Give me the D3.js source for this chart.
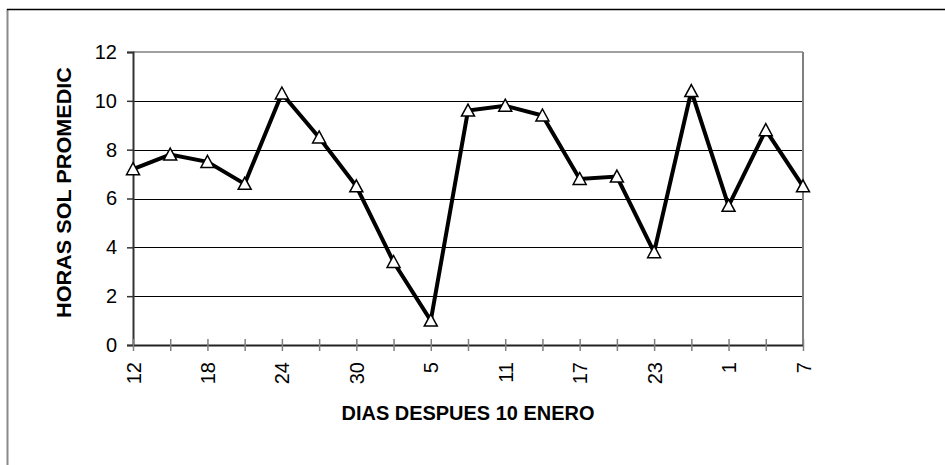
<!DOCTYPE html>
<html>
<head>
<meta charset="utf-8">
<script src="https://cdn.jsdelivr.net/npm/d3@7"></script>
<style>
  html, body { margin: 0; padding: 0; background: #fff; }
  svg { display: block; font-family: "Liberation Sans", Arial, sans-serif; }
</style>
</head>
<body>
<svg id="chart" width="945" height="465"></svg>
<script>
// Sampling dates (day of month), every three days from 12 January
const days = ["12", "15", "18", "21", "24", "27", "30", "2", "5", "8", "11", "14", "17", "20", "23", "26", "1", "4", "7"];
// Average sunshine hours for each sampling date
const hours = [7.2, 7.8, 7.5, 6.6, 10.3, 8.5, 6.5, 3.4, 1.0, 9.6, 9.8, 9.4, 6.8, 6.9, 3.8, 10.4, 5.7, 8.8, 6.5];
// Y ticks
const yTicks = [0, 2, 4, 6, 8, 10, 12];

const xTitle = "DIAS DESPUES 10 ENERO";
const yTitle = "HORAS SOL PROMEDIC";

const svg = d3.select("#chart");
const plotLeft = 133, plotRight = 803, plotTop = 52, plotBottom = 345;
const fontFamily = "'Liberation Sans', Arial, sans-serif";

const idx = d3.range(days.length);
const x = d3.scalePoint().domain(idx).range([plotLeft, plotRight]);
const y = d3.scaleLinear().domain([0, 12]).range([plotBottom, plotTop]);

// Outer frame
svg.append("line").attr("x1", 7.5).attr("x2", 7.5).attr("y1", 9).attr("y2", 465)
  .attr("stroke", "#8a8a8a").attr("stroke-width", 2);
svg.append("line").attr("x1", 7).attr("x2", 945).attr("y1", 9.5).attr("y2", 9.5)
  .attr("stroke", "#000").attr("stroke-width", 1.5);

// Horizontal gridlines
svg.append("g").selectAll("line").data(yTicks.filter(t => t > 0 && t < 12)).join("line")
  .attr("x1", plotLeft).attr("x2", plotRight)
  .attr("y1", d => Math.round(y(d)) + 0.5).attr("y2", d => Math.round(y(d)) + 0.5)
  .attr("stroke", "#000").attr("stroke-width", 1);

// Plot area top and right borders
svg.append("line").attr("x1", plotLeft).attr("x2", plotRight).attr("y1", y(12)).attr("y2", y(12))
  .attr("stroke", "#a0a0a0").attr("stroke-width", 2);
svg.append("line").attr("x1", plotRight).attr("x2", plotRight).attr("y1", y(12)).attr("y2", plotBottom)
  .attr("stroke", "#808080").attr("stroke-width", 2);

// Y axis
const yAxis = d3.axisLeft(y).tickValues(yTicks).tickSize(6).tickPadding(10);
const gy = svg.append("g").attr("transform", `translate(${plotLeft},0)`).call(yAxis);
gy.attr("font-size", 20).attr("font-family", fontFamily);
gy.select(".domain").attr("stroke", "#333").attr("stroke-width", 2);
gy.selectAll(".tick line").attr("stroke", "#333").attr("stroke-width", 1.5);
gy.selectAll(".tick text").attr("fill", "#000");

// X axis: ticks on every date, labels on every other date
const xAxis = d3.axisBottom(x).tickSizeInner(6).tickSizeOuter(0)
  .tickFormat(i => (i % 2 === 0 ? days[i] : ""));
const gx = svg.append("g").attr("transform", `translate(0,${plotBottom})`).call(xAxis);
gx.attr("font-size", 20).attr("font-family", fontFamily);
gx.select(".domain").attr("stroke", "#222").attr("stroke-width", 2);
gx.selectAll(".tick line").attr("y1", -6).attr("y2", 6)
  .attr("stroke", "#808080").attr("stroke-width", 1.5);
gx.selectAll(".tick text")
  .attr("fill", "#000")
  .attr("transform", "rotate(-90)")
  .attr("x", -17).attr("y", 0).attr("dy", "0.35em")
  .attr("text-anchor", "end");

// Axis titles
svg.append("text").attr("x", (plotLeft + plotRight) / 2).attr("y", 420)
  .attr("text-anchor", "middle").attr("font-size", 20).attr("font-weight", "bold")
  .attr("font-family", fontFamily)
  .attr("textLength", 253).attr("lengthAdjust", "spacingAndGlyphs")
  .text(xTitle);
svg.append("text")
  .attr("transform", `translate(71,192.5) rotate(-90)`)
  .attr("text-anchor", "middle").attr("font-size", 20).attr("font-weight", "bold")
  .attr("font-family", fontFamily)
  .attr("textLength", 251).attr("lengthAdjust", "spacingAndGlyphs")
  .text(yTitle);

// Series line
const line = d3.line().x(i => x(i)).y(i => y(hours[i]));
svg.append("path").datum(idx).attr("d", line)
  .attr("fill", "none").attr("stroke", "#000").attr("stroke-width", 4)
  .attr("stroke-linejoin", "miter");

// Triangle markers
svg.append("g").selectAll("path").data(idx).join("path")
  .attr("transform", i => `translate(${x(i)},${y(hours[i])})`)
  .attr("d", "M0,-6.5L6.5,5.5L-6.5,5.5Z")
  .attr("fill", "#fff").attr("stroke", "#000").attr("stroke-width", 1.5);
</script>
</body>
</html>
